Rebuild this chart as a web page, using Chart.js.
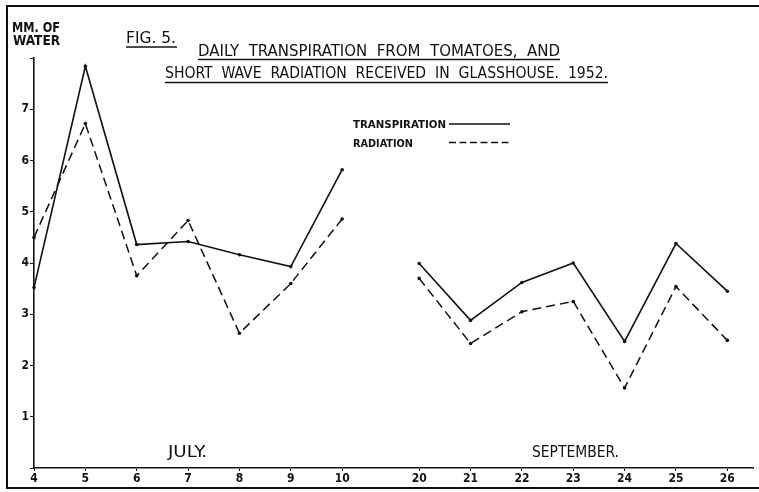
<!DOCTYPE html>
<html>
<head>
<meta charset="utf-8">
<script src="https://cdn.jsdelivr.net/npm/chart.js@4.4.1/dist/chart.umd.min.js"></script>
<style>
  html, body { margin: 0; padding: 0; background: #fff; }
  canvas { display: block; }
</style>
</head>
<body>
<canvas id="fig5" width="759" height="492"></canvas>
<script>
const julyDays = [4, 5, 6, 7, 8, 9, 10];
const septDays = [20, 21, 22, 23, 24, 25, 26];
const julyTranspiration = [3.52, 7.84, 4.36, 4.42, 4.16, 3.93, 5.82];
const julyRadiation = [4.5, 6.72, 3.75, 4.83, 2.63, 3.6, 4.86];
const septTranspiration = [3.99, 2.88, 3.62, 4.0, 2.47, 4.38, 3.45];
const septRadiation = [3.7, 2.43, 3.05, 3.25, 1.56, 3.54, 2.49];
const yTicks = [1, 2, 3, 4, 5, 6, 7];

// July sits at 0..6, September after a gap of 1.5 day-widths
const SEPT_OFFSET = julyDays.length + 0.5;
const xPositions = julyDays.map((d, i) => i).concat(septDays.map((d, i) => SEPT_OFFSET + i));
const xLabels = julyDays.concat(septDays).map(String);

const FONT = '"DejaVu Sans Condensed", "Liberation Sans Narrow", "Roboto Condensed", "DejaVu Sans", sans-serif';

function toPoints(july, sept) {
  const pts = july.map((v, i) => ({ x: i, y: v }));
  pts.push({ x: SEPT_OFFSET - 0.75, y: null });
  return pts.concat(sept.map((v, i) => ({ x: SEPT_OFFSET + i, y: v })));
}

// draw text squeezed/stretched to a given width
function fitText(ctx, text, x, y, width, size, weight) {
  ctx.save();
  ctx.font = weight + ' ' + size + 'px ' + FONT;
  ctx.textBaseline = 'alphabetic';
  ctx.textAlign = 'left';
  const w = ctx.measureText(text).width;
  ctx.translate(x, y);
  ctx.scale(width / w, 1);
  ctx.fillText(text, 0, 0);
  ctx.restore();
}

function hline(ctx, x1, x2, y, lw, dash) {
  ctx.save();
  ctx.lineWidth = lw;
  ctx.setLineDash(dash || []);
  ctx.beginPath();
  ctx.moveTo(x1, y);
  ctx.lineTo(x2, y);
  ctx.stroke();
  ctx.restore();
}

const annotations = {
  id: 'annotations',
  afterDraw(chart) {
    const ctx = chart.ctx;
    ctx.save();
    ctx.fillStyle = '#111';
    ctx.strokeStyle = '#111';

    // frame
    ctx.lineWidth = 2;
    ctx.beginPath();
    ctx.moveTo(759, 6);
    ctx.lineTo(7, 6);
    ctx.lineTo(7, 488);
    ctx.lineTo(759, 488);
    ctx.stroke();

    // y axis title
    fitText(ctx, 'MM. OF', 12, 32, 48, 14, 'bold');
    fitText(ctx, 'WATER', 13, 45, 47, 14, 'bold');

    // figure title
    fitText(ctx, 'FIG. 5.', 126, 43, 50, 15, 'normal');
    hline(ctx, 126, 177, 47, 1.3);
    fitText(ctx, 'DAILY  TRANSPIRATION  FROM  TOMATOES,  AND', 198, 56, 362, 16, 'normal');
    hline(ctx, 198, 560, 59.5, 1.3);
    fitText(ctx, 'SHORT  WAVE  RADIATION  RECEIVED  IN  GLASSHOUSE.  1952.', 165, 78, 443, 16, 'normal');
    hline(ctx, 165, 608, 82.5, 1.3);

    // legend
    fitText(ctx, 'TRANSPIRATION', 353, 128, 93, 11, 'bold');
    hline(ctx, 449, 510, 124, 1.3);
    fitText(ctx, 'RADIATION', 353, 147, 60, 11, 'bold');
    hline(ctx, 449, 510, 142.5, 1.3, [7, 3.5]);

    // month labels
    fitText(ctx, 'JULY.', 168, 457, 39, 16, 'normal');
    fitText(ctx, 'SEPTEMBER.', 532, 457, 87, 16, 'normal');
    ctx.restore();
  }
};

new Chart(document.getElementById('fig5'), {
  type: 'line',
  data: {
    datasets: [
      {
        label: 'TRANSPIRATION',
        data: toPoints(julyTranspiration, septTranspiration),
        borderColor: '#111',
        borderWidth: 1.6,
        pointRadius: 1.8,
        pointBorderWidth: 0,
        pointBackgroundColor: '#111',
        spanGaps: false,
        clip: false,
      },
      {
        label: 'RADIATION',
        data: toPoints(julyRadiation, septRadiation),
        borderColor: '#111',
        borderWidth: 1.5,
        borderDash: [9, 5],
        pointRadius: 1.8,
        pointBorderWidth: 0,
        pointBackgroundColor: '#111',
        spanGaps: false,
        clip: false,
      },
    ],
  },
  options: {
    responsive: false,
    animation: false,
    layout: { padding: { top: 58, right: 6, left: 0, bottom: 0 } },
    plugins: {
      legend: { display: false },
      tooltip: { enabled: false },
    },
    scales: {
      x: {
        type: 'linear',
        min: 0,
        max: 14,
        afterBuildTicks: (scale) => {
          scale.ticks = xPositions.map((v) => ({ value: v }));
        },
        afterFit: (scale) => { scale.height = 24; },
        border: { display: true, color: '#111', width: 1.6 },
        grid: { drawOnChartArea: false, drawTicks: true, tickLength: 3, color: '#111' },
        ticks: {
          autoSkip: false,
          maxRotation: 0,
          padding: 1,
          color: '#111',
          font: { family: FONT, size: 12, weight: 'bold' },
          callback: (value, index) => xLabels[index],
        },
      },
      y: {
        min: 0,
        max: 8,
        afterBuildTicks: (scale) => {
          scale.ticks = [0].concat(yTicks, [8]).map((v) => ({ value: v }));
        },
        afterFit: (scale) => { scale.width = 34; },
        border: { display: true, color: '#111', width: 1.6 },
        grid: { drawOnChartArea: false, drawTicks: true, tickLength: 4, color: '#111' },
        ticks: {
          padding: 1,
          color: '#111',
          font: { family: FONT, size: 12, weight: 'bold' },
          callback: (value) => (yTicks.includes(value) ? String(value) : ''),
        },
      },
    },
  },
  plugins: [annotations],
});
</script>
</body>
</html>
